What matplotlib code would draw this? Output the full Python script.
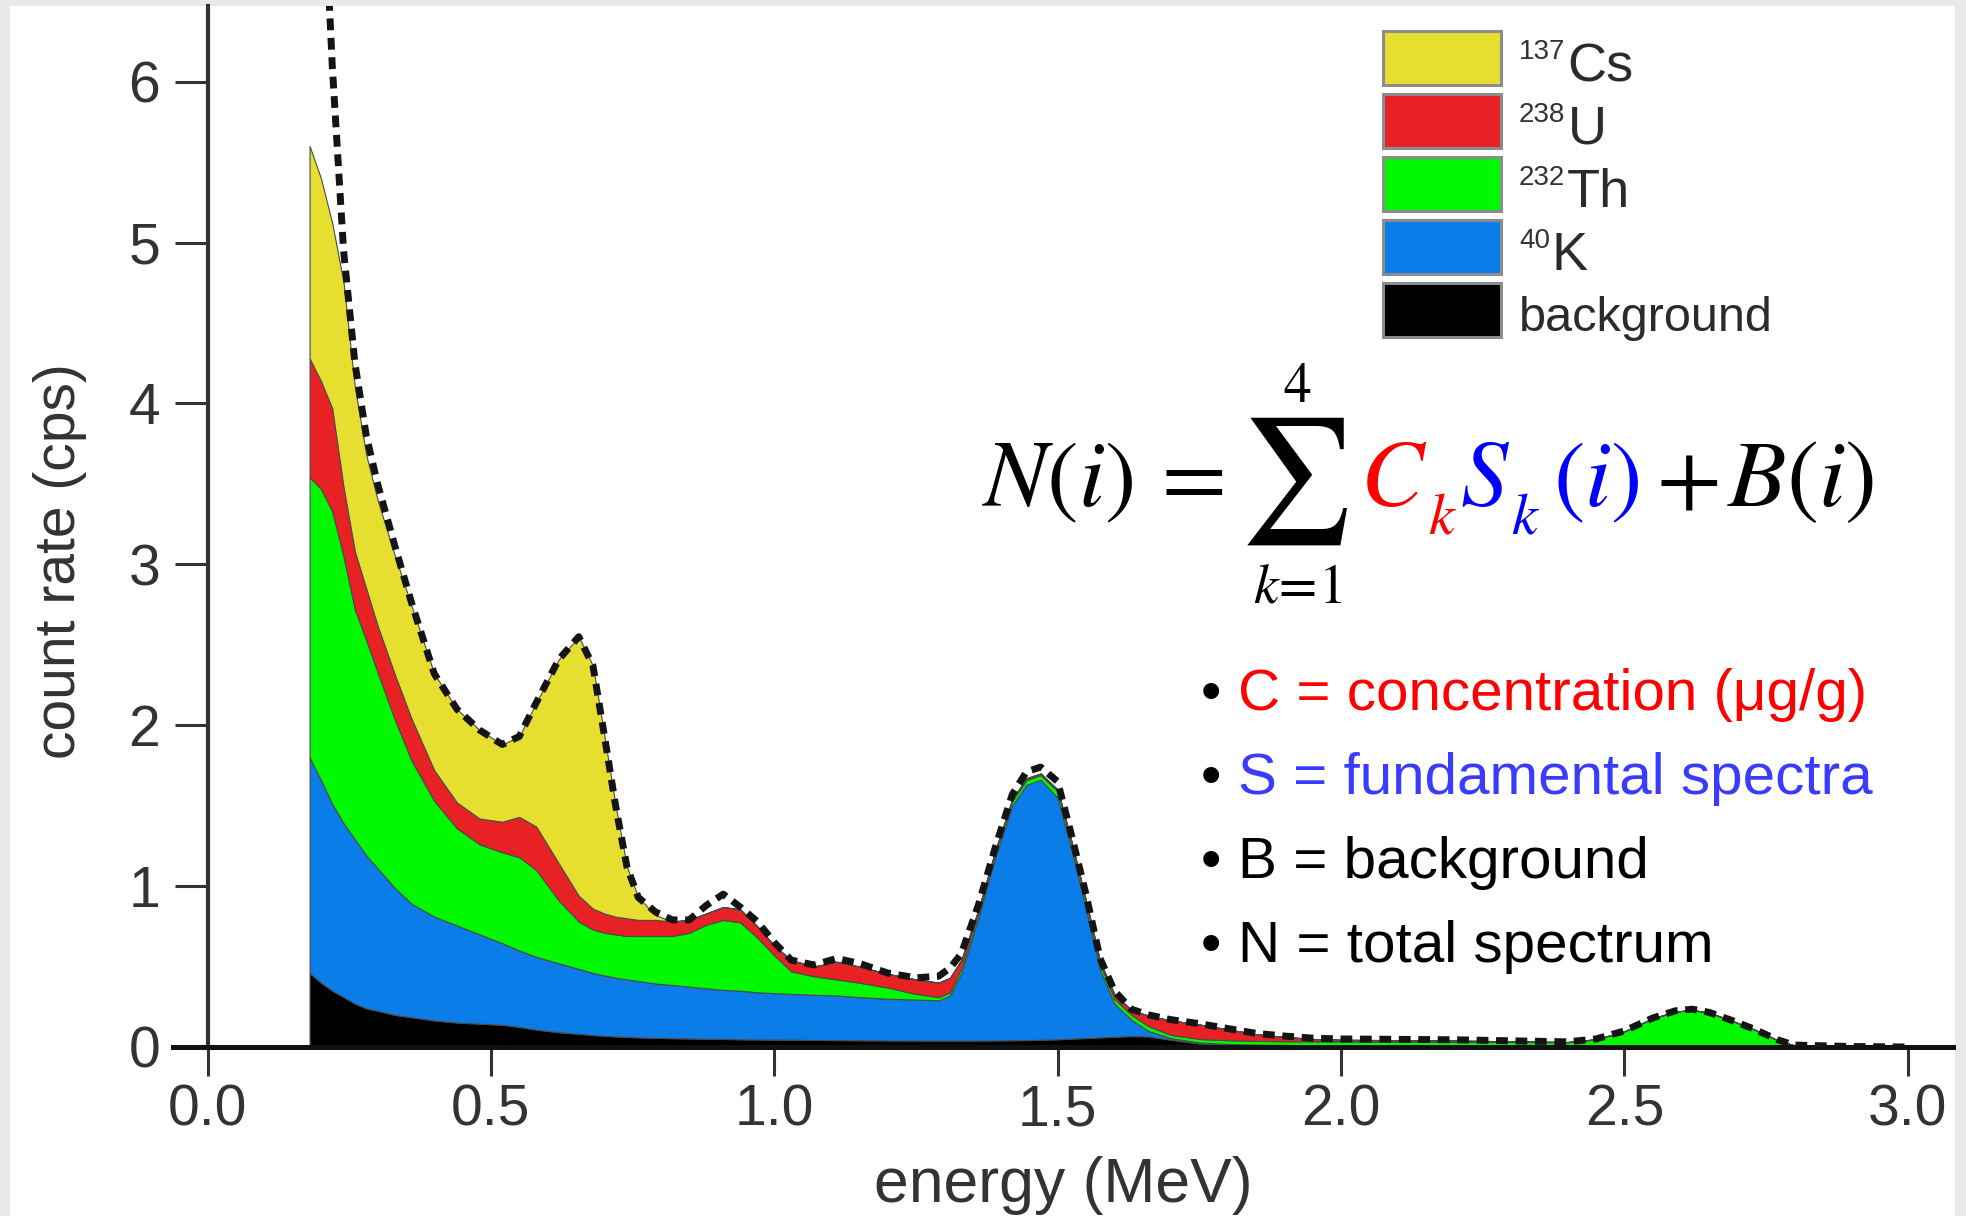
import numpy as np
import matplotlib
matplotlib.use("Agg")
import matplotlib.pyplot as plt
from matplotlib.patches import Rectangle

plt.rcParams["font.family"] = ["Liberation Sans", "DejaVu Sans"]

# Energy grid (MeV)
energy = [
    0.18, 0.20, 0.22, 0.24, 0.26, 0.28, 0.30, 0.33, 0.36, 0.40,
    0.44, 0.48, 0.52, 0.55, 0.58, 0.62, 0.655, 0.68, 0.70, 0.72,
    0.74, 0.76, 0.79, 0.82, 0.85, 0.88, 0.91, 0.94, 0.97, 1.00,
    1.03, 1.07, 1.11, 1.15, 1.20, 1.25, 1.29, 1.31, 1.33, 1.36,
    1.39, 1.42, 1.445, 1.47, 1.50, 1.525, 1.55, 1.575, 1.60, 1.63,
    1.66, 1.70, 1.75, 1.80, 1.85, 1.90, 1.95, 2.00, 2.20, 2.40,
    2.45, 2.50, 2.55, 2.59, 2.62, 2.65, 2.69, 2.73, 2.77, 2.80,
    2.90, 3.00,
]

# Upper edges of the stacked contributions (cps), bottom layer first
background_top = [
    0.46, 0.40, 0.35, 0.31, 0.27, 0.24, 0.225, 0.20, 0.185, 0.165,
    0.152, 0.145, 0.138, 0.125, 0.108, 0.092, 0.082, 0.075, 0.070, 0.066,
    0.063, 0.060, 0.057, 0.055, 0.053, 0.051, 0.050, 0.048, 0.047, 0.046,
    0.045, 0.044, 0.043, 0.042, 0.041, 0.040, 0.040, 0.040, 0.040, 0.040,
    0.041, 0.042, 0.043, 0.045, 0.048, 0.052, 0.056, 0.060, 0.064, 0.068,
    0.066, 0.045, 0.022, 0.015, 0.012, 0.010, 0.009, 0.008, 0.006, 0.005,
    0.005, 0.004, 0.004, 0.004, 0.004, 0.004, 0.003, 0.003, 0.002, 0.002,
    0.0, 0.0,
]
k40_top = [
    1.80, 1.66, 1.51, 1.39, 1.29, 1.19, 1.11, 0.99, 0.89, 0.81,
    0.755, 0.70, 0.645, 0.60, 0.56, 0.52, 0.485, 0.46, 0.445, 0.43,
    0.42, 0.41, 0.395, 0.385, 0.375, 0.365, 0.355, 0.35, 0.34, 0.335,
    0.33, 0.325, 0.32, 0.31, 0.30, 0.295, 0.29, 0.32, 0.46, 0.80,
    1.18, 1.50, 1.63, 1.66, 1.55, 1.22, 0.86, 0.48, 0.27, 0.17,
    0.10, 0.055, 0.028, 0.019, 0.015, 0.013, 0.011, 0.010, 0.008, 0.006,
    0.006, 0.005, 0.005, 0.005, 0.005, 0.005, 0.004, 0.004, 0.003, 0.002,
    0.0, 0.0,
]
th232_top = [
    3.54, 3.47, 3.33, 3.05, 2.72, 2.53, 2.33, 2.04, 1.78, 1.53,
    1.36, 1.26, 1.21, 1.18, 1.10, 0.91, 0.78, 0.73, 0.71, 0.70,
    0.69, 0.69, 0.69, 0.69, 0.71, 0.76, 0.79, 0.775, 0.68, 0.57,
    0.47, 0.44, 0.42, 0.40, 0.37, 0.33, 0.31, 0.34, 0.49, 0.83,
    1.21, 1.53, 1.66, 1.69, 1.59, 1.26, 0.90, 0.515, 0.30, 0.20,
    0.13, 0.075, 0.05, 0.042, 0.038, 0.036, 0.035, 0.035, 0.033, 0.030,
    0.048, 0.097, 0.178, 0.22, 0.23, 0.213, 0.163, 0.108, 0.043, 0.01,
    0.0, 0.0,
]
u238_top = [
    4.28, 4.14, 3.97, 3.48, 3.08, 2.85, 2.62, 2.32, 2.04, 1.72,
    1.52, 1.42, 1.40, 1.43, 1.37, 1.14, 0.94, 0.86, 0.83, 0.81,
    0.80, 0.79, 0.79, 0.78, 0.79, 0.83, 0.87, 0.855, 0.75, 0.63,
    0.54, 0.50, 0.53, 0.50, 0.455, 0.42, 0.40, 0.43, 0.54, 0.85,
    1.22, 1.54, 1.67, 1.70, 1.60, 1.27, 0.91, 0.53, 0.33, 0.23,
    0.195, 0.165, 0.14, 0.11, 0.08, 0.063, 0.05, 0.045, 0.04, 0.031,
    0.048, 0.097, 0.178, 0.22, 0.23, 0.213, 0.163, 0.108, 0.043, 0.01,
    0.0, 0.0,
]
cs137_top = [
    5.60, 5.40, 5.12, 4.75, 4.10, 3.68, 3.40, 3.06, 2.74, 2.32,
    2.10, 1.97, 1.88, 1.93, 2.14, 2.41, 2.55, 2.37, 1.94, 1.50,
    1.12, 0.93, 0.82, 0.78, 0.79, 0.83, 0.87, 0.855, 0.75, 0.63,
    0.54, 0.50, 0.53, 0.50, 0.455, 0.42, 0.40, 0.43, 0.54, 0.85,
    1.22, 1.54, 1.67, 1.70, 1.60, 1.27, 0.91, 0.53, 0.33, 0.23,
    0.195, 0.165, 0.14, 0.11, 0.08, 0.063, 0.05, 0.045, 0.04, 0.031,
    0.048, 0.097, 0.178, 0.22, 0.23, 0.213, 0.163, 0.108, 0.043, 0.01,
    0.0, 0.0,
]
# Measured total spectrum N (cps)
total_counts = [
    np.nan, 7.6, 6.1, 4.95, 4.25, 3.80, 3.50, 3.12, 2.76, 2.32,
    2.10, 1.97, 1.88, 1.93, 2.14, 2.41, 2.55, 2.37, 1.94, 1.50,
    1.12, 0.93, 0.84, 0.79, 0.79, 0.88, 0.95, 0.87, 0.78, 0.65,
    0.54, 0.51, 0.55, 0.52, 0.46, 0.43, 0.44, 0.49, 0.58, 0.88,
    1.24, 1.57, 1.71, 1.74, 1.65, 1.31, 0.95, 0.55, 0.35, 0.235,
    0.20, 0.17, 0.145, 0.115, 0.085, 0.068, 0.055, 0.05, 0.045, 0.032,
    0.05, 0.10, 0.18, 0.225, 0.235, 0.215, 0.165, 0.11, 0.045, 0.012,
    0.003, 0.0,
]

legend_masses = ["137", "238", "232", "40", ""]
legend_symbols = ["Cs", "U", "Th", "K", "background"]
legend_colors = ["#e6df30", "#e82224", "#00f800", "#0b7de8", "#000000"]

x_ticks = [0.0, 0.5, 1.0, 1.5, 2.0, 2.5, 3.0]
x_tick_labels = ["0.0", "0.5", "1.0", "1.5", "2.0", "2.5", "3.0"]
y_ticks = [0, 1, 2, 3, 4, 5, 6]

bullet_texts = ["C = concentration (\u03bcg/g)", "S = fundamental spectra",
                "B = background", "N = total spectrum"]
bullet_colors = ["#ff0000", "#3b3bff", "#000000", "#000000"]

W, H = 1966, 1216
fig = plt.figure(figsize=(W / 100, H / 100), dpi=100, facecolor="#e9e9e9")
fig.add_artist(Rectangle((10 / W, 0), (1955 - 10) / W, (H - 6) / H,
                         transform=fig.transFigure, facecolor="white",
                         edgecolor="none", zorder=-5))


def fig_text(px, py, s, **kw):
    return fig.text(px / W, 1 - py / H, s, **kw)


ax = fig.add_axes([173 / W, (H - 1047) / H, (1953 - 173) / W, (1047 - 6) / H])
ax.patch.set_alpha(0)
ax.set_xlim(-0.061, 3.08)
ax.set_ylim(0, 6.47)

e = np.array(energy)
edges = [np.zeros_like(e), np.array(background_top), np.array(k40_top),
         np.array(th232_top), np.array(u238_top), np.array(cs137_top)]
fill_colors = ["#000000", "#0b7de8", "#00f800", "#e82224", "#e6df30"]
for lo, hi, c in zip(edges[:-1], edges[1:], fill_colors):
    ax.fill_between(e, lo, hi, facecolor=c, edgecolor="#4a4a4a",
                    linewidth=0.8, zorder=2)

ax.plot(e, total_counts, color="#141414", lw=5.0, linestyle=(0, (1.7, 1.1)),
        zorder=5)

for side in ("top", "right"):
    ax.spines[side].set_visible(False)
ax.spines["left"].set_position(("data", 0))
ax.spines["left"].set_linewidth(3.0)
ax.spines["left"].set_color("#333333")
ax.spines["bottom"].set_linewidth(3.6)
ax.spines["bottom"].set_color("#111111")

ax.set_xticks(x_ticks)
ax.set_xticklabels(x_tick_labels)
ax.set_yticks(y_ticks)
ax.tick_params(axis="x", length=21, width=2.2, pad=5, labelsize=41,
               colors="#333333")
ax.tick_params(axis="y", length=24, width=2.2, pad=10, labelsize=41,
               colors="#333333")

ax.set_ylabel("count rate (cps)", fontsize=41, color="#333333")
ax.yaxis.set_label_coords(-0.0635, 0.467)
ax.yaxis.label.set_va("center")
ax.set_xlabel("energy (MeV)", fontsize=45, color="#333333")
ax.xaxis.set_label_coords(0.5, -0.1335)
ax.xaxis.label.set_va("center")

# Legend swatches and labels
renderer = fig.canvas.get_renderer()
for i, (mass, sym, col) in enumerate(zip(legend_masses, legend_symbols, legend_colors)):
    top = 31 + 63 * i
    fig.add_artist(Rectangle((1383 / W, 1 - (top + 54) / H), 118 / W, 54 / H,
                             transform=fig.transFigure, facecolor=col,
                             edgecolor="#8c8c8c", linewidth=2.2))
    if mass:
        t = fig_text(1519, top + 28, mass, fontsize=20, color="#333333",
                     va="baseline", ha="left")
        x_sym = t.get_window_extent(renderer=renderer).x1 + 2
        fig_text(x_sym, top + 50, sym, fontsize=39, color="#2b2b2b",
                 va="baseline", ha="left")
    else:
        fig_text(1519, top + 48, sym, fontsize=35, color="#2b2b2b",
                 va="baseline", ha="left")

# Model equation, set piece by piece so each factor can carry its own colour
mk = dict(math_fontfamily="stix", va="baseline", ha="left")
base = 506
sub = 533
fig_text(982, base, r"$N(i)\,=$", fontsize=68, color="black", **mk)
fig_text(1297, 481, "\u2211", fontsize=90, color="black", ha="center",
         va="center", family="STIXGeneral")
fig_text(1297, 402, r"$4$", fontsize=40, color="black", ha="center",
         va="baseline", math_fontfamily="stix")
fig_text(1298, 602, r"$k\!=\!1$", fontsize=40, color="black", ha="center",
         va="baseline", math_fontfamily="stix")
c_txt = fig_text(1360, base, r"$C$", fontsize=68, color="#ff0000", **mk)
k1_x = c_txt.get_window_extent(renderer=renderer).x1 + 1
fig_text(k1_x, sub, r"$k$", fontsize=42, color="#ff0000", **mk)
s_txt = fig_text(1460, base, r"$S$", fontsize=68, color="#0000ff", **mk)
k2_x = s_txt.get_window_extent(renderer=renderer).x1 + 1
fig_text(k2_x, sub, r"$k$", fontsize=42, color="#0000ff", **mk)
fig_text(1553, base, r"$(i)$", fontsize=68, color="#0000ff", **mk)
fig_text(1656, base, r"$+$", fontsize=68, color="black", **mk)
fig_text(1727, base, r"$B(i)$", fontsize=69, color="black", **mk)

# Symbol definitions
for i, (txt, col) in enumerate(zip(bullet_texts, bullet_colors)):
    y = 710 + 84 * i
    fig_text(1201, y, "\u2022", fontsize=42, color="black", va="baseline")
    fig_text(1238, y, txt, fontsize=42, color=col, va="baseline")

fig.savefig("out.png", dpi=100, facecolor=fig.get_facecolor())
